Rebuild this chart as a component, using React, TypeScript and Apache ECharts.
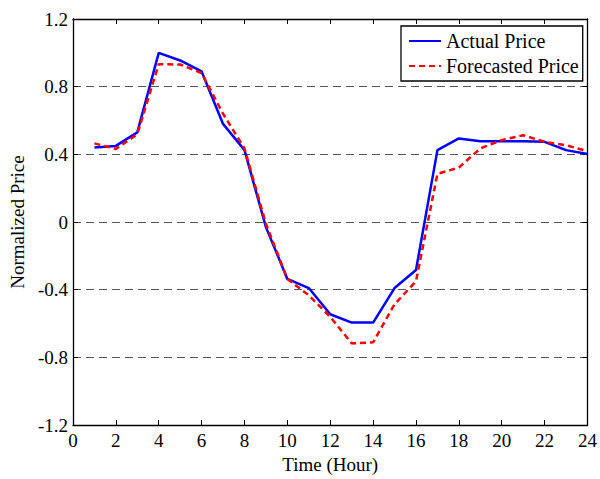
import React, { useEffect, useRef } from "react";
import * as echarts from "echarts";

const hours = [1, 2, 3, 4, 5, 6, 7, 8, 9, 10, 11, 12, 13, 14, 15, 16, 17, 18, 19, 20, 21, 22, 23, 24];
const actualPrice = [0.44, 0.45, 0.53, 1.0, 0.955, 0.89, 0.58, 0.425, -0.03, -0.336, -0.39, -0.545, -0.594, -0.594, -0.39, -0.283, 0.425, 0.494, 0.478, 0.478, 0.478, 0.474, 0.425, 0.402];
const forecastedPrice = [0.465, 0.432, 0.519, 0.933, 0.931, 0.88, 0.64, 0.435, -0.01, -0.336, -0.433, -0.56, -0.717, -0.711, -0.486, -0.35, 0.285, 0.322, 0.435, 0.484, 0.513, 0.474, 0.454, 0.419];
const seriesNames = ["Actual Price", "Forecasted Price"];
const xTitle = "Time (Hour)";
const yTitle = "Normalized Price";

const FONT = "'Liberation Serif', 'Times New Roman', serif";

export default function App() {
  const ref = useRef<HTMLDivElement>(null);
  useEffect(() => {
    if (!ref.current) return;
    const chart = echarts.init(ref.current, undefined, { renderer: "svg" });
    const axisLine = { show: true, onZero: false, lineStyle: { color: "#000", width: 1.3 } };
    const tick = { show: true, inside: true, length: 5, lineStyle: { color: "#000", width: 1 } };
    chart.setOption({
      animation: false,
      backgroundColor: "#fff",
      grid: { left: 68, right: 11, top: 19, bottom: 50, containLabel: false },
      legend: {
        data: seriesNames,
        orient: "vertical",
        left: 401,
        top: 26,
        backgroundColor: "#fff",
        borderColor: "#000",
        borderWidth: 1.3,
        borderRadius: 0,
        padding: [4, 4, 4, 7],
        itemGap: 3,
        itemWidth: 32,
        itemHeight: 14,
        itemStyle: { opacity: 0 },
        textStyle: { fontFamily: FONT, fontSize: 20, color: "#000", lineHeight: 22 },
      },
      xAxis: [
        {
          type: "value",
          min: 0,
          max: 24,
          interval: 2,
          position: "bottom",
          axisLine,
          axisTick: tick,
          axisLabel: { color: "#000", fontFamily: FONT, fontSize: 19, margin: 6 },
          splitLine: { show: false },
          name: xTitle,
          nameLocation: "middle",
          nameGap: 27,
          nameTextStyle: { color: "#000", fontFamily: FONT, fontSize: 19 },
        },
        {
          type: "value",
          min: 0,
          max: 24,
          interval: 2,
          position: "top",
          axisLine,
          axisTick: tick,
          axisLabel: { show: false },
          splitLine: { show: false },
        },
      ],
      yAxis: [
        {
          type: "value",
          min: -1.2,
          max: 1.2,
          interval: 0.4,
          position: "left",
          axisLine,
          axisTick: tick,
          axisLabel: {
            color: "#000",
            fontFamily: FONT,
            fontSize: 19,
            margin: 5,
            formatter: (v: number) => String(Math.round(v * 10) / 10),
          },
          splitLine: { show: true, lineStyle: { color: "#555", width: 1, type: [8, 5] } },
          name: yTitle,
          nameLocation: "middle",
          nameGap: 42,
          nameTextStyle: { color: "#000", fontFamily: FONT, fontSize: 19 },
        },
        {
          type: "value",
          min: -1.2,
          max: 1.2,
          interval: 0.4,
          position: "right",
          axisLine,
          axisTick: tick,
          axisLabel: { show: false },
          splitLine: { show: false },
        },
      ],
      series: [
        {
          name: seriesNames[0],
          type: "line",
          data: hours.map((h, i) => [h, actualPrice[i]]),
          symbol: "none",
          lineStyle: { color: "#0000ff", width: 2.5 },
          itemStyle: { color: "#0000ff" },
        },
        {
          name: seriesNames[1],
          type: "line",
          data: hours.map((h, i) => [h, forecastedPrice[i]]),
          symbol: "none",
          lineStyle: { color: "#ff0000", width: 2.5, type: [6, 4] },
          itemStyle: { color: "#ff0000" },
        },
      ],
    });
    return () => chart.dispose();
  }, []);
  return <div ref={ref} style={{ position: "fixed", left: 0, top: 0, width: 600, height: 479 }} />;
}
